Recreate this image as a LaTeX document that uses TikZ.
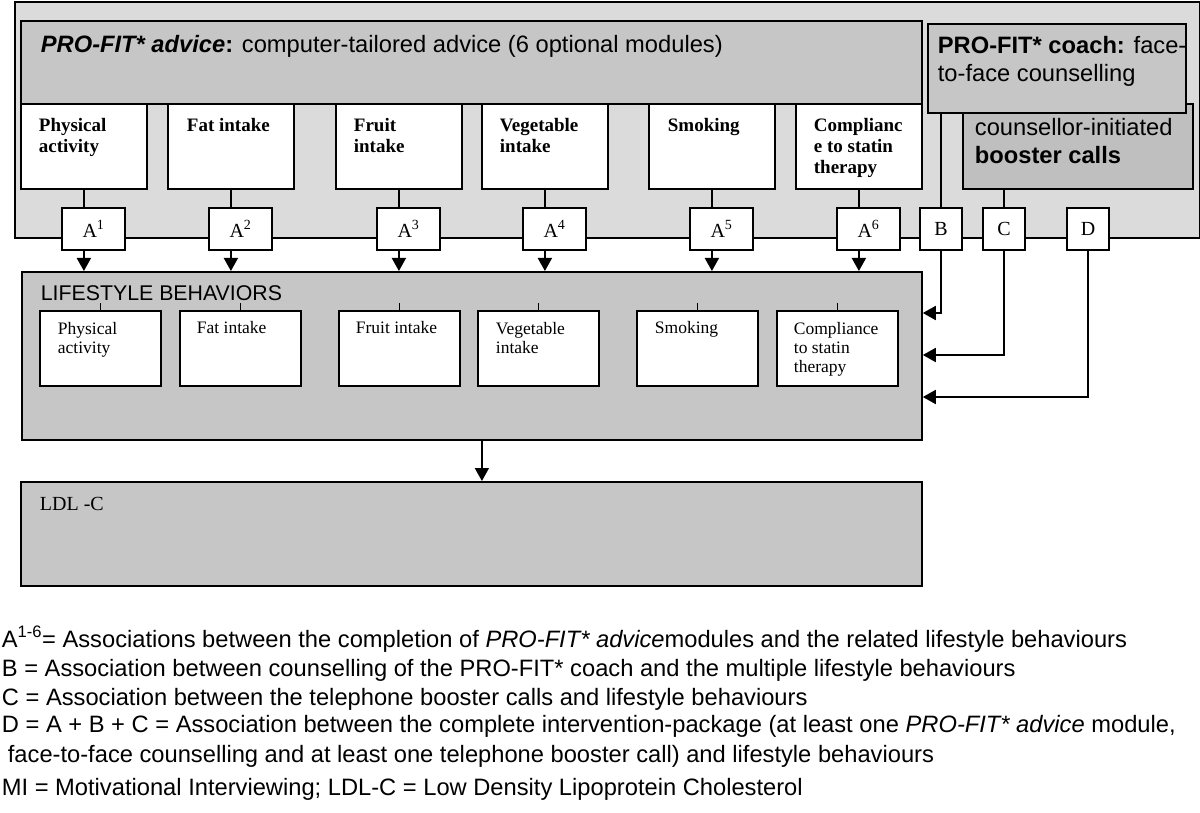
\documentclass[tikz,border=0pt]{standalone}
\usepackage{fontspec}
\setmainfont{Liberation Serif}
\setsansfont{Liberation Sans}
\usetikzlibrary{arrows.meta}

\begin{document}
\begin{tikzpicture}[x=1pt,y=-1pt,line width=1.8pt,box/.style={shape=rectangle,draw=black,inner sep=0pt,anchor=north west},outerbox/.style={box,fill=gray!28},pane/.style={box,fill=gray!45},module/.style={box,fill=white,minimum width=126pt,minimum height=85pt},behav/.style={box,fill=white,minimum width=121pt,minimum height=75pt},assoc/.style={box,fill=white,anchor=center,minimum width=63pt,minimum height=42pt,font=\fontsize{20}{24}\selectfont},part/.style={assoc,minimum width=42pt},headtxt/.style={anchor=base west,inner sep=0pt,align=left,font=\sffamily\fontsize{23.7}{28}\selectfont},modtxt/.style={anchor=base west,inner sep=0pt,align=left,font=\bfseries\fontsize{19}{21}\selectfont},behtxt/.style={anchor=base west,inner sep=0pt,align=left,font=\fontsize{17.5}{19}\selectfont},keytxt/.style={anchor=base west,inner sep=0pt,font=\sffamily\fontsize{23.7}{29}\selectfont},arr/.style={-{Triangle[length=13pt,width=14pt]}}]
\useasboundingbox (0,0) rectangle (1200,813);
\def\mtop{103};
\def\ay{229};
\def\btop{310};

% upper panel: advice, coach, booster
\node[outerbox,minimum width=1185pt,minimum height=236pt] (O) at (14,1) {};
\node[pane,minimum width=901pt,minimum height=83pt] (adv) at (20,20) {};
\node[headtxt] (advt) at (40,53) {\textbf{\textit{PRO-FIT* advice}:} computer-tailored advice (6 optional modules)};
\node[box,fill=gray!50,minimum width=230pt,minimum height=85pt] (bst) at (962,\mtop) {};
\node[headtxt] (bstt) at (974,164) {counsellor-initiated\\\textbf{booster calls}};
\node[pane,minimum width=258pt,minimum height=89pt] (coach) at (927,23) {};
\node[headtxt] (coacht) at (937,82) {\textbf{PRO-FIT* coach:} face-\\to-face counselling};

% advice modules (base = last line)
\node[module] (m1) at (20,\mtop) {};
\node[modtxt] (m1t) at (38,153) {Physical\\activity};
\node[module] (m2) at (167,\mtop) {};
\node[modtxt] (m2t) at (186,132) {Fat intake};
\node[module] (m3) at (335,\mtop) {};
\node[modtxt] (m3t) at (353,153) {Fruit\\intake};
\node[module] (m4) at (481,\mtop) {};
\node[modtxt] (m4t) at (499,153) {Vegetable\\intake};
\node[module] (m5) at (648,\mtop) {};
\node[modtxt] (m5t) at (667,132) {Smoking};
\node[module] (m6) at (795,\mtop) {};
\node[modtxt] (m6t) at (813,174) {Complianc\\e to statin\\therapy};

\node[assoc] (a1) at (20+73.5,\ay) {A\textsuperscript{1}};
\draw (m1.south) -- (m1.south |- a1.north);
\node[assoc] (a2) at (167+73.5,\ay) {A\textsuperscript{2}};
\draw (m2.south) -- (m2.south |- a2.north);
\node[assoc] (a3) at (335+73.5,\ay) {A\textsuperscript{3}};
\draw (m3.south) -- (m3.south |- a3.north);
\node[assoc] (a4) at (481+73.5,\ay) {A\textsuperscript{4}};
\draw (m4.south) -- (m4.south |- a4.north);
\node[assoc] (a5) at (648+73.5,\ay) {A\textsuperscript{5}};
\draw (m5.south) -- (m5.south |- a5.north);
\node[assoc] (a6) at (795+73.5,\ay) {A\textsuperscript{6}};
\draw (m6.south) -- (m6.south |- a6.north);

\node[part] (B) at (941,\ay) {B};
\draw (B.north) -- (B.north |- coach.south);
\node[part] (C) at (1004,\ay) {C};
\draw (C.north) -- (C.north |- bst.south);
\node[part] (D) at (1088,\ay) {D};

% lifestyle behaviours
\node[pane,minimum width=900pt,minimum height=168pt] (ls) at (21,271) {};
\node[headtxt,font=\sffamily\fontsize{21.3}{24}\selectfont] (lst) at (40,301) {LIFESTYLE BEHAVIORS};

\node[behav] (l1) at (39,\btop) {};
\draw (l1.north) -- ++(0,-7);
\node[behtxt] (l1t) at (57,353) {Physical\\activity};
\node[behav] (l2) at (179,\btop) {};
\draw (l2.north) -- ++(0,-7);
\node[behtxt] (l2t) at (196,334) {Fat intake};
\node[behav] (l3) at (338,\btop) {};
\draw (l3.north) -- ++(0,-7);
\node[behtxt] (l3t) at (355,334) {Fruit intake};
\node[behav] (l4) at (477,\btop) {};
\draw (l4.north) -- ++(0,-7);
\node[behtxt] (l4t) at (495,353) {Vegetable\\intake};
\node[behav] (l5) at (636,\btop) {};
\draw (l5.north) -- ++(0,-7);
\node[behtxt] (l5t) at (654,334) {Smoking};
\node[behav] (l6) at (776,\btop) {};
\draw (l6.north) -- ++(0,-7);
\node[behtxt] (l6t) at (793,372) {Compliance\\to statin\\therapy};

\draw[arr] (a1.south -| m1.south) -- (ls.north -| m1.south);
\draw[arr] (a2.south -| m2.south) -- (ls.north -| m2.south);
\draw[arr] (a3.south -| m3.south) -- (ls.north -| m3.south);
\draw[arr] (a4.south -| m4.south) -- (ls.north -| m4.south);
\draw[arr] (a5.south -| m5.south) -- (ls.north -| m5.south);
\draw[arr] (a6.south -| m6.south) -- (ls.north -| m6.south);

\draw[arr] (B.south) |- ([yshift=-42pt]ls.north east);
\draw[arr] (C.south) |- ([yshift=-84pt]ls.north east);
\draw[arr] (D.south) |- ([yshift=-126pt]ls.north east);

% outcome
\node[pane,minimum width=901pt,minimum height=104pt] (ldl) at (20,481) {};
\node[behtxt,font=\fontsize{20}{24}\selectfont] (ldlt) at (39,510) {LDL -C};
\draw[arr] ([xshift=10pt]ls.south) -- ([xshift=10pt]ls.south |- ldl.north);

% key
\node[keytxt] (kA) at (1,647) {A\textsuperscript{1-6}= Associations between the completion of \textit{PRO-FIT* advice}modules and the related lifestyle behaviours};
\node[keytxt] (kB) at (1,676) {B = Association between counselling of the PRO-FIT* coach and the multiple lifestyle behaviours};
\node[keytxt] (kC) at (1,705) {C = Association between the telephone booster calls and lifestyle behaviours};
\node[keytxt] (kD) at (1,732) {D = A + B + C = Association between the complete intervention-package (at least one \textit{PRO-FIT* advice} module,};
\node[keytxt] (kD2) at (7,762) {face-to-face counselling and at least one telephone booster call) and lifestyle behaviours};
\node[keytxt] (kM) at (1,795) {MI = Motivational Interviewing; LDL-C = Low Density Lipoprotein Cholesterol};
\end{tikzpicture}
\end{document}
